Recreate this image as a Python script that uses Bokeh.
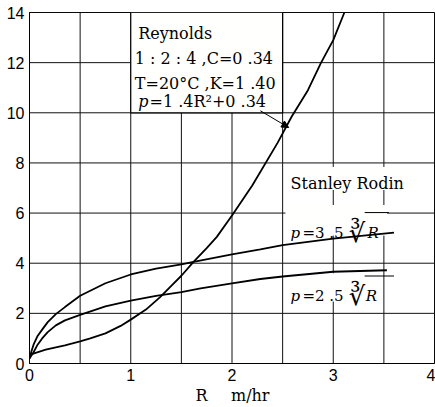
from bokeh.plotting import figure
from bokeh.models import Label, Arrow, NormalHead, FixedTicker, Range1d, LinearAxis, BoxAnnotation
from bokeh.embed import file_html
from bokeh.resources import INLINE

# ---- data ----
x_ticks = [0, 1, 2, 3, 4]
y_ticks = [0, 2, 4, 6, 8, 10, 12, 14]
x_grid = [0, 0.5, 1, 1.5, 2, 2.5, 3, 3.5, 4]
x_min, x_max, y_min, y_max = 0, 4, 0, 14

# Reynolds  p = 1.4R^2 + 0.34
R_rey = [0, 0.16, 0.35, 0.5, 0.6, 0.75, 0.9, 1.0, 1.15, 1.29, 1.4, 1.5, 1.62, 1.75, 1.85,
         2.0, 2.2, 2.45, 2.59, 2.75, 2.88, 3.0, 3.11]
P_rey = [0.34, 0.55, 0.72, 0.88, 1.0, 1.2, 1.5, 1.75, 2.15, 2.65, 3.1, 3.5, 4.05, 4.6, 5.05,
         5.9, 7.1, 8.8, 9.85, 10.9, 12.0, 12.9, 14.0]

# Stanley Rodin  p = 3.5 cbrt(R)
R_up = [0, 0.02, 0.04, 0.08, 0.125, 0.18, 0.26, 0.35, 0.5, 0.75, 1.0, 1.25, 1.5, 1.62, 2.0,
        2.28, 2.5, 3.0, 3.6]
P_up = [0.2, 0.5, 0.75, 1.1, 1.35, 1.65, 1.97, 2.25, 2.7, 3.2, 3.55, 3.78, 3.95, 4.05, 4.35,
        4.55, 4.72, 4.98, 5.22]

# Stanley Rodin  p = 2.5 cbrt(R)
R_lo = [0, 0.04, 0.08, 0.125, 0.18, 0.26, 0.35, 0.5, 0.75, 1.0, 1.25, 1.5, 1.69, 2.0, 2.28,
        2.5, 3.0, 3.53]
P_lo = [0.2, 0.45, 0.75, 1.0, 1.25, 1.52, 1.72, 1.94, 2.28, 2.51, 2.7, 2.85, 3.0, 3.2, 3.37,
        3.47, 3.66, 3.72]

# axis title pieces, placed like tick labels on an extra axis
title_pos = [1.70, 2.18]
title_txt = ["R", "m/hr"]

SERIF = "DejaVu Serif"
PAPER = "#fffffe"

# areas where the grid is left out behind the texts (left, right, bottom, top)
holes = [(1.0, 2.5, 10, 14),        # Reynolds note
         (2.54, 3.84, 6.92, 7.84),  # Stanley Rodin
         (2.53, 3.53, 5.1, 6.32),   # p = 3.5 cbrt(R)
         (2.54, 3.45, 2.48, 3.6)]   # p = 2.5 cbrt(R)


def pieces(lo, hi, cuts):
    out, start = [], lo
    for a, b in sorted(cuts):
        if a > start:
            out.append((start, a))
        start = max(start, b)
    if start < hi:
        out.append((start, hi))
    return out


gx0, gy0, gx1, gy1 = [], [], [], []
for gx in x_grid:
    cuts = [(b, t) for (l, r, b, t) in holes if l < gx < r]
    for a, b in pieces(y_min, y_max, cuts):
        gx0.append(gx); gx1.append(gx); gy0.append(a); gy1.append(b)
for gy in y_ticks:
    cuts = [(l, r) for (l, r, b, t) in holes if b < gy < t]
    for a, b in pieces(x_min, x_max, cuts):
        gx0.append(a); gx1.append(b); gy0.append(gy); gy1.append(gy)

p = figure(width=435, height=407, x_range=Range1d(x_min, x_max), y_range=Range1d(y_min, y_max),
           output_backend="svg", toolbar_location=None,
           min_border_left=29, min_border_right=1, min_border_top=12, min_border_bottom=40)
p.background_fill_color = "white"
p.border_fill_color = "white"
p.outline_line_color = "black"
p.outline_line_width = 1
p.xgrid.grid_line_color = None
p.ygrid.grid_line_color = None
p.xgrid.visible = False
p.ygrid.visible = False

for ax in (p.xaxis, p.yaxis):
    ax.axis_line_color = "black"
    ax.major_tick_out = 0
    ax.major_tick_in = 0
    ax.minor_tick_out = 0
    ax.minor_tick_in = 0
    ax.major_label_text_font = "Liberation Sans"
    ax.major_label_text_font_size = "16px"
    ax.major_label_text_color = "black"
    ax.major_label_standoff = 5
p.xaxis.ticker = FixedTicker(ticks=x_ticks)
p.yaxis.ticker = FixedTicker(ticks=y_ticks)

# axis title as a second, bare axis below
tax = LinearAxis(ticker=FixedTicker(ticks=title_pos),
                 major_label_overrides={v: t for v, t in zip(title_pos, title_txt)},
                 axis_line_alpha=0, major_tick_out=0, major_tick_in=0,
                 minor_tick_out=0, minor_tick_in=0,
                 major_label_text_font=SERIF, major_label_text_font_size="16px",
                 major_label_text_color="black", major_label_standoff=2)
p.add_layout(tax, "below")

# grid lines with gaps behind the texts
p.segment(x0=gx0, y0=gy0, x1=gx1, y1=gy1, line_color="#111111", line_width=1)

# curves
p.line(R_rey, P_rey, line_color="black", line_width=1.8)
p.line(R_up, P_up, line_color="black", line_width=1.8)
p.line(R_lo, P_lo, line_color="black", line_width=1.8)

# paper panels (annotation level, placed so they do not touch the curves)
p.add_layout(BoxAnnotation(left=1.0, right=2.5, bottom=10, top=14, fill_color=PAPER,
                           fill_alpha=1, line_color="black", line_width=1.2, line_alpha=1))
p.add_layout(BoxAnnotation(left=2.54, right=3.84, bottom=6.92, top=7.84, fill_color=PAPER,
                           fill_alpha=1, line_alpha=0))
p.add_layout(BoxAnnotation(left=2.53, right=3.53, bottom=5.36, top=6.32, fill_color=PAPER,
                           fill_alpha=1, line_alpha=0))
p.add_layout(BoxAnnotation(left=2.54, right=3.45, bottom=2.48, top=3.4, fill_color=PAPER,
                           fill_alpha=1, line_alpha=0))


def lab(x, y, text, size="16px", style="normal"):
    p.add_layout(Label(x=x, y=y, text=text, text_font=SERIF, text_font_size=size,
                       text_font_style=style, text_color="black",
                       text_baseline="alphabetic", text_align="left"))


# Reynolds note
lab(1.074, 13.17, "Reynolds")
lab(1.04, 12.15, "1 : 2 : 4 ,C=0 .34")
lab(1.04, 11.15, "T=20°C ,K=1 .40")
lab(1.074, 10.44, "p", style="italic")
lab(1.185, 10.44, "=1 .4R²+0 .34")
p.add_layout(Arrow(end=NormalHead(size=7, fill_color="black", line_color="black"),
                   x_start=2.28, y_start=10.08, x_end=2.56, y_end=9.41,
                   line_color="black", line_width=1))

# Stanley Rodin
lab(2.578, 7.17, "Stanley Rodin")

# formulas
lab(2.578, 5.21, "p", size="15px", style="italic")
lab(2.696, 5.21, "=3 .5", size="15px")
lab(3.15, 5.21, "∛", size="26px")
lab(3.338, 5.21, "R", size="15px", style="italic")
p.add_layout(Arrow(end=None, x_start=3.31, y_start=6.02, x_end=3.55, y_end=6.02,
                   line_color="black", line_width=1))

lab(2.578, 2.68, "p", size="15px", style="italic")
lab(2.696, 2.68, "=2 .5", size="15px")
lab(3.15, 2.68, "∛", size="26px")
lab(3.32, 2.68, "R", size="15px", style="italic")
p.add_layout(Arrow(end=None, x_start=3.31, y_start=3.49, x_end=3.60, y_end=3.49,
                   line_color="black", line_width=1))

open("out.html", "w").write(file_html(p, INLINE))
